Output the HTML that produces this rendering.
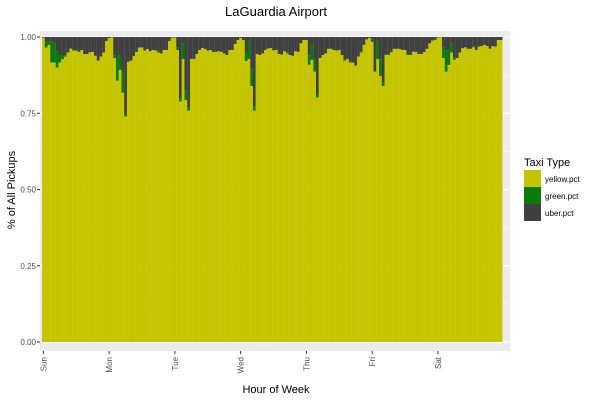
<!DOCTYPE html>
<html><head><meta charset="utf-8"><style>
body{margin:0;background:#fff;font-family:"Liberation Sans",sans-serif}
svg text{font-family:"Liberation Sans",sans-serif}
</style></head><body>
<svg id="chart" width="600" height="400" xmlns="http://www.w3.org/2000/svg">
<text x="276" y="16" text-anchor="middle" font-size="13" fill="#000">LaGuardia Airport</text>
<rect x="40" y="31" width="470" height="320" fill="#EBEBEB"/>
<g id="grid"></g><g id="bars"></g><g id="axes"></g>
<text x="276" y="393" text-anchor="middle" font-size="11">Hour of Week</text>
<text transform="translate(15,190) rotate(-90)" text-anchor="middle" font-size="11">% of All Pickups</text>
<g>
<text x="524" y="166" font-size="11">Taxi Type</text>
<rect x="524" y="170" width="17" height="17" fill="#C4C400"/>
<text x="545" y="182" font-size="8">yellow.pct</text>
<rect x="524" y="187" width="17" height="17" fill="#0A7A0A"/>
<text x="545" y="199" font-size="8">green.pct</text>
<rect x="524" y="204" width="17" height="17" fill="#404040"/>
<text x="545" y="216" font-size="8">uber.pct</text>
</g>
</svg>
<script>
const yellow=[.998,.965,.974,.916,.916,.899,.916,.927,.936,.949,.961,.955,.955,.951,.957,.944,.944,.950,.951,.938,.922,.936,.949,.987,
.996,.999,.931,.857,.892,.817,.739,.917,.922,.938,.951,.965,.965,.955,.960,.953,.957,.955,.949,.946,.957,.957,.987,.998,
.998,.957,.788,.928,.793,.758,.927,.928,.944,.957,.964,.961,.955,.957,.951,.951,.953,.951,.946,.941,.957,.957,.977,.990,
.997,.990,.921,.928,.839,.758,.944,.941,.946,.957,.962,.964,.956,.957,.944,.942,.953,.946,.941,.938,.953,.951,.979,.990,
.990,.909,.925,.886,.801,.931,.941,.946,.960,.961,.957,.955,.957,.941,.922,.928,.916,.916,.906,.936,.949,.974,.992,.997,
.984,.886,.927,.872,.839,.941,.941,.949,.961,.961,.961,.957,.957,.941,.941,.951,.951,.944,.944,.951,.961,.979,.988,.990,
.997,.999,.931,.886,.908,.949,.925,.931,.949,.963,.966,.961,.961,.966,.957,.968,.970,.974,.970,.961,.970,.968,.990,.990];
const green=[0,.016,.010,.070,.066,.054,.025,.014,.004,0,.002,.004,0,0,0,0,0,0,0,0,0,0,0,0,
0,0,.009,.075,.046,.072,.007,.002,0,0,0,0,0,0,0,0,.002,0,.004,0,0,0,0,0,
0,.008,.012,.051,.033,.011,.003,0,0,0,0,0,0,0,0,0,0,0,0,0,0,0,0,0,
0,0,.027,.059,.055,.015,0,0,0,0,0,0,0,0,.002,0,0,.002,0,0,0,0,0,0,
0,.031,.052,.040,.012,0,0,0,.003,0,.002,0,0,0,.004,0,.003,0,0,0,.003,0,0,0,
.009,0,.058,.055,.011,.003,.004,.003,0,0,0,0,0,.003,0,.002,0,0,0,0,0,0,0,.004,
.002,0,.035,.071,.047,.031,.007,0,0,0,0,0,0,.004,0,0,0,0,0,0,0,0,0,0];
const yTicks=[0,0.25,0.5,0.75,1];
const yTickLabels=["0.00","0.25","0.50","0.75","1.00"];
const dayLabels=["Sun","Mon","Tue","Wed","Thu","Fri","Sat"];
const NS="http://www.w3.org/2000/svg";
const X0=42,BW=2.74,Y0=342,Y1=37;
function xs(i){return X0+i*BW;}
function ys(v){return Y0-(Y0-Y1)*v;}
function mk(tag,attrs,parent){const e=document.createElementNS(NS,tag);for(const k in attrs)e.setAttribute(k,attrs[k]);parent.appendChild(e);return e;}
const grid=document.getElementById('grid'),bars=document.getElementById('bars'),axes=document.getElementById('axes');
yTicks.forEach((v,i)=>{
  const l=mk('line',{x1:40,x2:510,y1:ys(v),y2:ys(v),stroke:'#fff','stroke-width':1},grid);
  
  
  if(i<yTicks.length-1){const m=mk('line',{x1:40,x2:510,y1:ys(v+0.125),y2:ys(v+0.125),stroke:'#fff','stroke-width':0.5},grid);
  
  }
  const t=mk('text',{x:36,y:ys(v)+3,'text-anchor':'end','font-size':8,fill:'#4d4d4d'},axes);
  t.textContent=yTickLabels[i];
  
  
  const tk=mk('line',{x1:37,x2:40,y1:ys(v),y2:ys(v),stroke:'#333'},axes);
  
  
});
yellow.forEach((y,i)=>{
  const g=green[i],x=xs(i),w=BW+0.1;
  const ru=mk('rect',{x:x,y:ys(1),width:w,height:ys(y+g)-ys(1),fill:'#404040'},bars);
  
  
  const rg=mk('rect',{x:x,y:ys(y+g),width:w,height:ys(y)-ys(y+g),fill:'#0A7A0A'},bars);
  
  
  const ry=mk('rect',{x:x,y:ys(y),width:w,height:ys(0)-ys(y),fill:'#C4C400'},bars);
  
  
});
dayLabels.forEach((d,i)=>{
  const cx=xs(i*24)+BW/2;
  const tk=mk('line',{x1:cx,x2:cx,y1:351,y2:354,stroke:'#333'},axes);
  
  
  const t=mk('text',{transform:`translate(${cx+3},357) rotate(-90)`,'text-anchor':'end','font-size':8,fill:'#4d4d4d'},axes);
  t.textContent=d;
  
  
});
</script>
</body></html>
